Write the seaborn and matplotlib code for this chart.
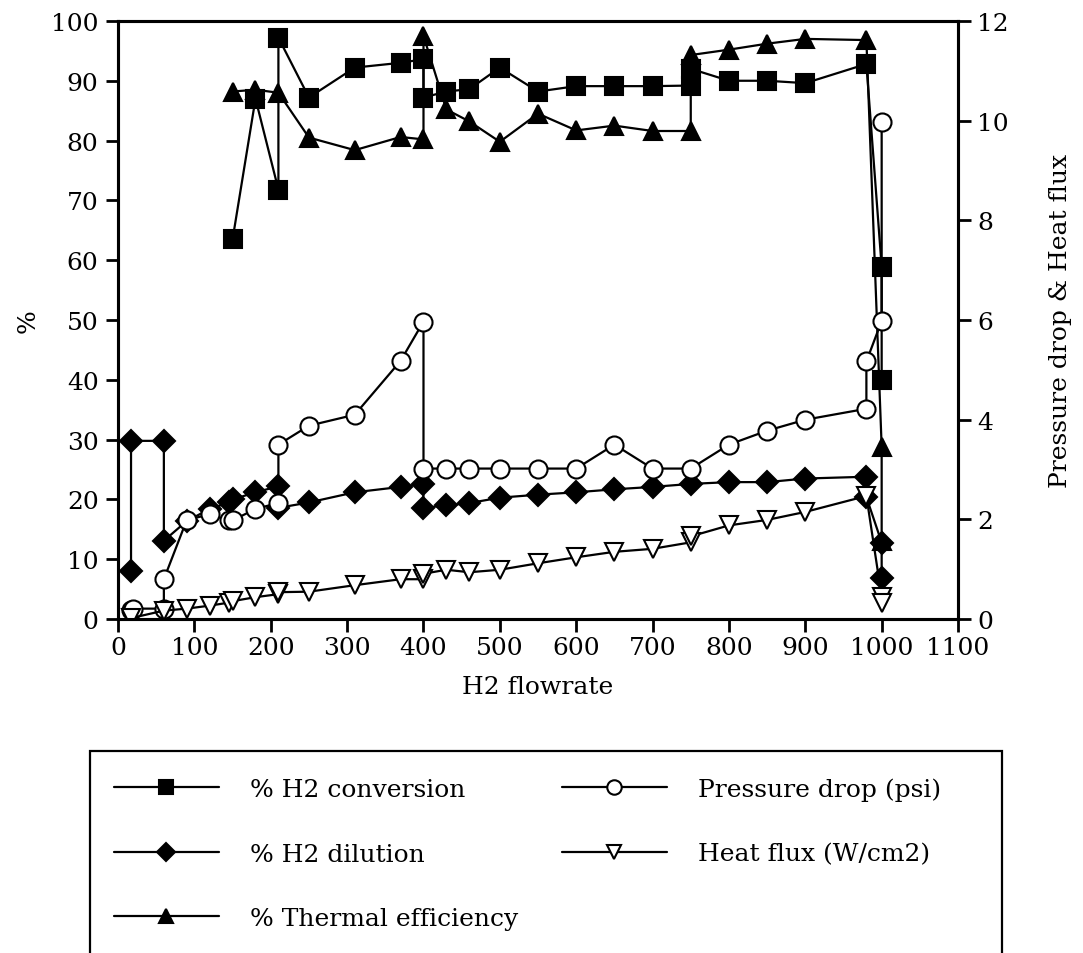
import matplotlib
matplotlib.use("Agg")
import matplotlib.pyplot as plt
from matplotlib.patches import Rectangle
import seaborn as sns

# % H2 conversion (left axis)
conv_x = [150, 180, 210, 210, 250, 310, 370, 400, 400, 430, 460, 500, 550, 600, 650,
          700, 750, 750, 800, 850, 900, 980, 1000, 1000]
conv_y = [63.5, 87.0, 71.8, 97.2, 87.2, 92.2, 93.0, 93.6, 87.2, 88.2, 88.6, 92.2, 88.2,
          89.1, 89.1, 89.1, 89.2, 92.0, 90.0, 90.0, 89.6, 92.8, 58.9, 40.0]

# % H2 dilution (left axis)
dil_x = [17, 17, 60, 60, 90, 120, 145, 150, 180, 210, 210, 250, 310, 370, 400, 400, 430,
         460, 500, 550, 600, 650, 700, 750, 800, 850, 900, 980, 980, 1000, 1000]
dil_y = [8.1, 29.8, 29.8, 13.1, 16.4, 18.4, 19.5, 20.0, 21.2, 22.2, 18.6, 19.5, 21.2,
         22.1, 22.6, 18.6, 19.0, 19.4, 20.3, 20.8, 21.2, 21.7, 22.1, 22.6, 22.9, 22.9,
         23.5, 23.8, 20.4, 12.8, 6.8]

# % Thermal efficiency (left axis)
eff_x = [150, 180, 210, 250, 310, 370, 400, 400, 430, 460, 500, 550, 600, 650, 700, 750,
         750, 800, 850, 900, 980, 1000, 1000]
eff_y = [88.2, 88.5, 88.0, 80.5, 78.4, 80.6, 80.2, 97.5, 85.2, 83.2, 79.8, 84.5, 81.7,
         82.5, 81.6, 81.6, 94.3, 95.2, 96.2, 97.0, 96.8, 28.8, 13.0]

# Pressure drop (psi), right axis
dp_x = [17, 20, 60, 60, 90, 120, 145, 150, 180, 210, 210, 250, 310, 370, 400, 400, 430,
        460, 500, 550, 600, 650, 700, 750, 800, 850, 900, 980, 980, 1000, 1000]
dp_y = [0.19, 0.21, 0.21, 0.80, 1.99, 2.10, 1.98, 1.98, 2.21, 2.33, 3.50, 3.88, 4.10,
        5.18, 5.97, 3.02, 3.02, 3.02, 3.02, 3.02, 3.02, 3.50, 3.02, 3.02, 3.50, 3.78,
        4.00, 4.22, 5.17, 5.98, 9.97]

# Heat flux (W/cm2), right axis
hf_x = [17, 60, 90, 120, 145, 150, 180, 210, 210, 250, 310, 370, 400, 400, 430, 460, 500,
        550, 600, 650, 700, 750, 750, 800, 850, 900, 980, 1000, 1000]
hf_y = [0.02, 0.17, 0.21, 0.27, 0.33, 0.36, 0.44, 0.50, 0.54, 0.55, 0.68, 0.80, 0.80,
        0.91, 0.99, 0.94, 0.99, 1.12, 1.24, 1.35, 1.41, 1.54, 1.66, 1.88, 1.99, 2.15,
        2.47, 0.45, 0.33]

sns.set_style("ticks")
plt.rcParams["font.family"] = ["DejaVu Serif"]
plt.rcParams["text.color"] = "black"
plt.rcParams["axes.labelcolor"] = "black"
FS = 18

fig = plt.figure(figsize=(10.83, 9.54), dpi=100)
ax = fig.add_axes([0.109, 0.35, 0.7756, 0.627])
ax2 = ax.twinx()

common = dict(color="black", linewidth=1.6, markeredgecolor="black",
              markeredgewidth=1.5, sort=False, estimator=None)

sns.lineplot(x=conv_x, y=conv_y, ax=ax, marker="s", markersize=13,
             markerfacecolor="black", label="% H2 conversion", **common)
sns.lineplot(x=dil_x, y=dil_y, ax=ax, marker="D", markersize=11,
             markerfacecolor="black", label="% H2 dilution", **common)
sns.lineplot(x=eff_x, y=eff_y, ax=ax, marker="^", markersize=13,
             markerfacecolor="black", label="% Thermal efficiency", **common)
sns.lineplot(x=dp_x, y=dp_y, ax=ax2, marker="o", markersize=13,
             markerfacecolor="white", label="Pressure drop (psi)", **common)
sns.lineplot(x=hf_x, y=hf_y, ax=ax2, marker="v", markersize=13,
             markerfacecolor="white", label="Heat flux (W/cm2)", **common)

h1, l1 = ax.get_legend_handles_labels()
h2, l2 = ax2.get_legend_handles_labels()
for a in (ax, ax2):
    if a.get_legend() is not None:
        a.get_legend().remove()

ax.set_xlim(0, 1100)
ax.set_ylim(0, 100)
ax2.set_ylim(0, 12)
ax.set_xticks(range(0, 1101, 100))
ax.set_yticks(range(0, 101, 10))
ax2.set_yticks(range(0, 13, 2))

for a in (ax, ax2):
    a.tick_params(direction="out", length=9, width=2, labelsize=FS, pad=5,
                  colors="black")
    for s in a.spines.values():
        s.set_linewidth(2.2)
        s.set_color("black")
        s.set_visible(True)
ax.tick_params(axis="x", pad=3)

ax.set_xlabel("H2 flowrate", fontsize=FS, labelpad=12)
ax.set_ylabel("%", fontsize=FS, labelpad=8)
ax2.set_ylabel("Pressure drop & Heat flux", fontsize=FS, labelpad=29)

leg = fig.legend(h1 + h2, l1 + l2, loc="upper left", bbox_to_anchor=(0.0933, 0.197),
                 ncol=2, frameon=False, fontsize=FS, handlelength=4.2,
                 handletextpad=1.25, labelspacing=1.66, columnspacing=1.75,
                 borderpad=0, markerscale=0.8)
for t in leg.get_texts():
    t.set_color("black")
fig.patches.append(Rectangle((0.0831, -0.05), 0.842, 0.2617, transform=fig.transFigure,
                             fill=False, edgecolor="black", linewidth=1.6, clip_on=False))

fig.savefig("out.png", dpi=100)
